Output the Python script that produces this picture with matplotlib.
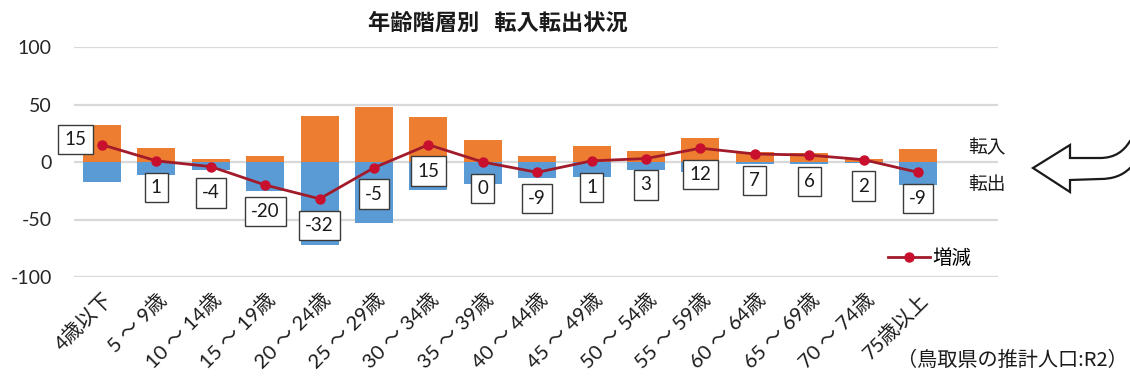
import matplotlib
matplotlib.use("Agg")
import matplotlib.pyplot as plt
from matplotlib.path import Path
from matplotlib.patches import PathPatch
from matplotlib.lines import Line2D
import numpy as np

# Data: migration in / out by age group, and the net change
age_groups = ["4歳以下", "5 ～ 9歳", "10 ～ 14歳", "15 ～ 19歳", "20 ～ 24歳", "25 ～ 29歳",
              "30 ～ 34歳", "35 ～ 39歳", "40 ～ 44歳", "45 ～ 49歳", "50 ～ 54歳", "55 ～ 59歳",
              "60 ～ 64歳", "65 ～ 69歳", "70 ～ 74歳", "75歳以上"]
moved_in = [32, 12, 3, 5, 40, 48, 39, 19, 5, 14, 10, 21, 9, 8, 3, 11]
moved_out = [-17, -11, -7, -25, -72, -53, -24, -19, -14, -13, -7, -9, -2, -2, -1, -20]
net_change = [15, 1, -4, -20, -32, -5, 15, 0, -9, 1, 3, 12, 7, 6, 2, -9]
y_ticks = [-100, -50, 0, 50, 100]

CJK = "Noto Sans CJK JP"
plt.rcParams["font.family"] = ["Lato", CJK, "DejaVu Sans"]

W, H = 1130, 381
fig = plt.figure(figsize=(W / 100, H / 100), dpi=100)
fig.patch.set_facecolor("white")

ax = fig.add_axes([74 / W, 1 - 277 / H, (998 - 74) / W, (277 - 47) / H])
x = np.arange(len(age_groups))

ax.bar(x, moved_in, width=0.7, color="#ED7D31", zorder=2)
ax.bar(x, moved_out, width=0.7, color="#5B9BD5", zorder=2)
ax.plot(x, net_change, color="#A21B2B", lw=2, marker="o", ms=6.5,
        mfc="#C8102E", mec="#C8102E", zorder=3)

box = dict(boxstyle="square,pad=0.33", fc="white", ec="#3a3a3a", lw=1)
for i, v in enumerate(net_change):
    if i == 0:
        ax.annotate(str(v), (x[i], v), xytext=(-11, 4), textcoords="offset points",
                    ha="right", va="center", fontsize=13.5, color="#1a1a1a",
                    bbox=box, zorder=4)
    else:
        ax.annotate(str(v), (x[i], v), xytext=(0, -19), textcoords="offset points",
                    ha="center", va="center", fontsize=13.5, color="#1a1a1a",
                    bbox=box, zorder=4)

ax.set_xlim(-0.514, 16.47)
ax.set_ylim(-100, 100)
ax.set_yticks(y_ticks)
ax.set_yticklabels([str(t) for t in y_ticks], fontsize=14, color="#262626")
ax.yaxis.grid(True, color="#D9D9D9", lw=1.6)
ax.set_axisbelow(True)
for s in ax.spines.values():
    s.set_visible(False)
ax.tick_params(axis="y", length=0, pad=16)
ax.tick_params(axis="x", length=0, pad=9)
ax.set_xticks(x)
ax.set_xticklabels(age_groups, rotation=45, ha="right", va="top",
                   rotation_mode="anchor", fontsize=14.5, color="#1a1a1a")

# Title
fig.text(498 / W, 1 - 23 / H, "年齢階層別   転入転出状況", ha="center", va="center",
         fontsize=16, family=[CJK], weight="bold", color="#1a1a1a")

# Series captions at the right of the plot
fig.text(968 / W, 1 - 148 / H, "転入", ha="left", va="center", fontsize=13.5,
         family=[CJK], color="#1a1a1a")
fig.text(968 / W, 1 - 185 / H, "転出", ha="left", va="center", fontsize=13.5,
         family=[CJK], color="#1a1a1a")

# Legend for the net-change line
handle = Line2D([], [], color="#A21B2B", lw=2, marker="o", ms=6.5,
                mfc="#C8102E", mec="#C8102E")
fig.legend([handle], ["増減"], loc="center left",
           bbox_to_anchor=(872 / W, 1 - 258 / H), frameon=False,
           handlelength=2.2, handletextpad=0.1, borderpad=0.3,
           prop={"family": CJK, "size": 14})

# Source note
fig.text(1128 / W, 1 - 360 / H, "（鳥取県の推計人口:R2）", ha="right", va="center",
         fontsize=14.5, family=[CJK], color="#1a1a1a")

# Hollow curved arrow pointing at the chart
def px(xp, yp):
    return (xp / W, 1 - yp / H)

verts = [px(1033, 168), px(1070, 145), px(1070, 158), px(1100, 158),
         px(1115, 158), px(1124, 151), px(1130, 141),
         px(1145, 141), px(1145, 166),
         px(1130, 168),
         px(1122, 176), px(1112, 179), px(1100, 179),
         px(1070, 180), px(1070, 192), px(1033, 168)]
codes = [Path.MOVETO, Path.LINETO, Path.LINETO, Path.LINETO,
         Path.CURVE4, Path.CURVE4, Path.CURVE4,
         Path.LINETO, Path.LINETO,
         Path.LINETO,
         Path.CURVE4, Path.CURVE4, Path.CURVE4,
         Path.LINETO, Path.LINETO, Path.CLOSEPOLY]
arrow = PathPatch(Path(verts, codes), transform=fig.transFigure, fc="white",
                  ec="#1a1a1a", lw=1.6, joinstyle="miter")
fig.patches.append(arrow)

fig.savefig("out.png", dpi=100)
